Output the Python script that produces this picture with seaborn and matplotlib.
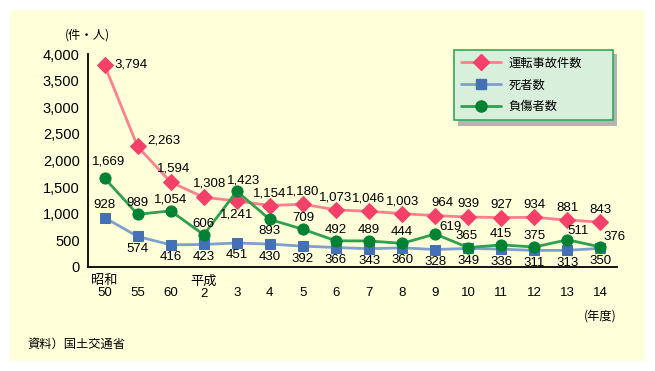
import matplotlib
matplotlib.use("Agg")
import matplotlib.pyplot as plt
import matplotlib.patches as mpatches
import seaborn as sns
import pandas as pd
import numpy as np

categories = ["昭和\n50", "55", "60", "平成\n2", "3", "4", "5", "6", "7", "8", "9", "10", "11", "12", "13", "14"]
accidents = [3794, 2263, 1594, 1308, 1241, 1154, 1180, 1073, 1046, 1003, 964, 939, 927, 934, 881, 843]
deaths = [928, 574, 416, 423, 451, 430, 392, 366, 343, 360, 328, 349, 336, 311, 313, 350]
injured = [1669, 989, 1054, 606, 1423, 893, 709, 492, 489, 444, 619, 365, 415, 375, 511, 376]
yticks = [0, 500, 1000, 1500, 2000, 2500, 3000, 3500, 4000]

series_names = ["運転事故件数", "死者数", "負傷者数"]

sns.set_theme(style="white")
plt.rcParams['font.family'] = ['Noto Sans CJK JP', 'DejaVu Sans']
plt.rcParams['text.color'] = 'black'
plt.rcParams['xtick.color'] = 'black'
plt.rcParams['ytick.color'] = 'black'
plt.rcParams['axes.labelcolor'] = 'black'

W, H = 655, 371
fig = plt.figure(figsize=(W / 100, H / 100), dpi=100, facecolor="white")
bg = "#FFFFD9"
fig.patches.append(mpatches.Rectangle((10 / W, 1 - 361 / H), 635 / W, 351 / H,
                                      transform=fig.transFigure, facecolor=bg,
                                      edgecolor="none", zorder=-10))

ax = fig.add_axes([88 / W, 1 - 267 / H, (617 - 88) / W, (267 - 54) / H])
ax.patch.set_visible(False)

x = np.arange(len(categories))
df = pd.DataFrame({"x": np.tile(x, 3),
                   "value": accidents + deaths + injured,
                   "series": np.repeat(series_names, len(categories))})

styles = {
    "運転事故件数": dict(line="#FF7F8E", mk="#F5406A", marker="D", ms=8),
    "死者数": dict(line="#7F9FD2", mk="#4470B6", marker="s", ms=7.5),
    "負傷者数": dict(line="#2EA04E", mk="#008234", marker="o", ms=8),
}

for name in series_names:
    st = styles[name]
    sub = df[df.series == name]
    sns.lineplot(data=sub, x="x", y="value", ax=ax, color=st["line"], lw=2,
                 marker=st["marker"], markersize=st["ms"],
                 markerfacecolor=st["mk"], markeredgecolor=st["mk"],
                 label=name, legend=False, zorder=3, clip_on=False)

ax.set_xlim(-0.5, len(categories) - 0.5)
ax.set_ylim(0, 4000)
ax.set_yticks(yticks)
ax.set_yticklabels([f"{v:,}" for v in yticks], fontsize=10.5, family=['Liberation Sans', 'DejaVu Sans'])
ax.set_xticks(x)
ax.set_xticklabels([c if "\n" in c else "\n" + c for c in categories], fontsize=9.5,
                   linespacing=1.0, family=['Liberation Sans', 'Noto Sans CJK JP'])
ax.set_xticks(np.arange(len(categories) + 1) - 0.5, minor=True)
ax.tick_params(axis="x", which="major", length=0, pad=6)
ax.tick_params(axis="x", which="minor", direction="in", length=5, width=1, color="black")
ax.tick_params(axis="y", direction="in", length=12, width=1.2, color="black", pad=6)
for s in ["top", "right"]:
    ax.spines[s].set_visible(False)
for s in ["left", "bottom"]:
    ax.spines[s].set_color("black")
    ax.spines[s].set_linewidth(1.3)
ax.set_xlabel("")
ax.set_ylabel("")

fs = 9.5
num_family = ['Liberation Sans Narrow', 'Liberation Sans', 'DejaVu Sans']

def lab(i, v, dx, dy, ha="center", va="center"):
    ax.annotate(f"{v:,}", (i, v), xytext=(dx, dy), textcoords="offset points",
                ha=ha, va=va, fontsize=fs, family=num_family, zorder=5)

# accidents labels
acc_off = {0: (7, 0, "left"), 1: (7, 4, "left"), 2: (2, 10, "center"), 3: (4.5, 10, "center"),
           4: (0, -9.5, "center"), 10: (5, 9, "center")}
for i, v in enumerate(accidents):
    dx, dy, ha = acc_off.get(i, (0, 9, "center"))
    lab(i, v, dx, dy, ha)
# deaths labels
for i, v in enumerate(deaths):
    if i == 0:
        lab(i, v, 0, 9)
    else:
        lab(i, v, 0, -9)
# injured labels
inj_off = {0: (3, 12, "center"), 4: (5, 8, "center"), 5: (0, -8, "center"),
           10: (3, 5, "left"), 11: (-1, 8, "center"), 14: (0, 6, "left"), 15: (2, 7, "left")}
for i, v in enumerate(injured):
    dx, dy, ha = inj_off.get(i, (0, 8, "center"))
    lab(i, v, dx, dy, ha)

# legend
handles = []
for name in series_names:
    st = styles[name]
    handles.append(plt.Line2D([], [], color=st["line"], lw=2, marker=st["marker"],
                              markersize=st["ms"], markerfacecolor=st["mk"], markeredgecolor=st["mk"]))
lx0, ly0, lx1, ly1 = 454, 50, 613, 122
leg = fig.legend(handles, series_names, loc="upper left",
                 bbox_to_anchor=(lx0 / W, 1 - ly1 / H, (lx1 - lx0) / W, (ly1 - ly0) / H),
                 bbox_transform=fig.transFigure, mode="expand",
                 prop={"size": 8.8}, frameon=True, fancybox=False, shadow=False,
                 handlelength=3.3, borderpad=0.55, labelspacing=0.72, handletextpad=0.6,
                 borderaxespad=0)
leg.get_frame().set_facecolor("#D8EFDC")
leg.get_frame().set_edgecolor("#34A853")
leg.get_frame().set_linewidth(1.2)
leg.get_frame().set_alpha(1)
leg.set_zorder(10)
fig.patches.append(mpatches.Rectangle(((lx0 + 4) / W, 1 - (ly1 + 4) / H), (lx1 - lx0) / W, (ly1 - ly0) / H,
                                      transform=fig.transFigure, facecolor="#B4B4B4",
                                      edgecolor="none", zorder=9))

fig.text(65 / W, 1 - 35 / H, "(件・人)", fontsize=8.8, ha="left", va="center")
fig.text(617 / W, 1 - 316 / H, "(年度)", fontsize=8.8, ha="right", va="center")
fig.text(27 / W, 1 - 344 / H, "資料）国土交通省", fontsize=8.8, ha="left", va="center")

fig.savefig("out.png", dpi=100, facecolor="white")
